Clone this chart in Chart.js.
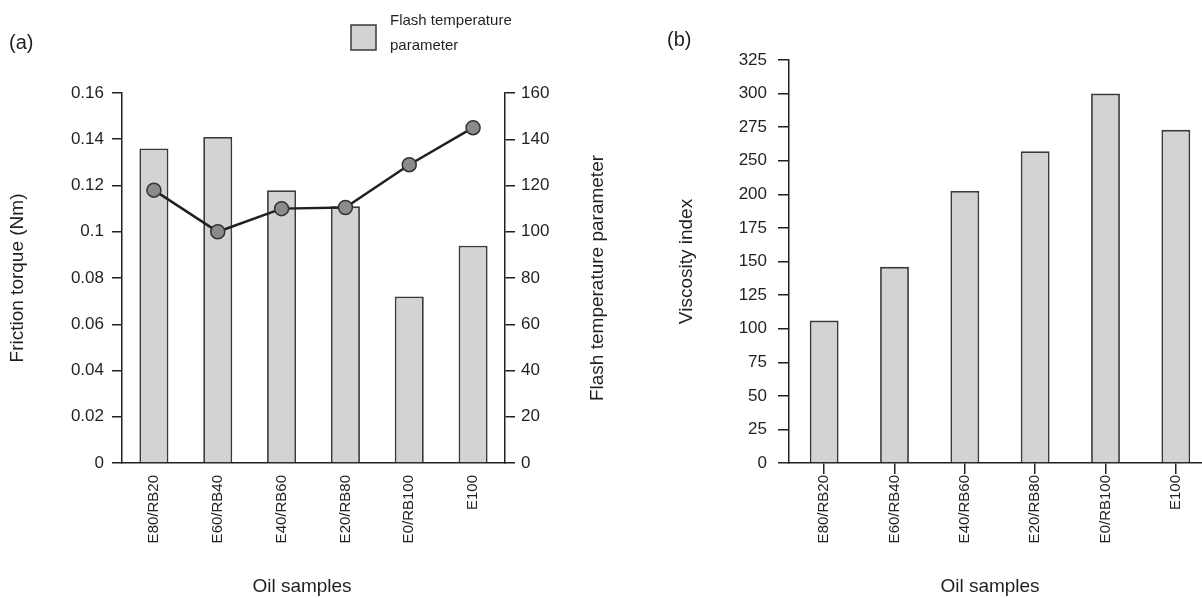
<!DOCTYPE html>
<html><head><meta charset="utf-8">
<script src="https://cdn.jsdelivr.net/npm/chart.js@4/dist/chart.umd.min.js"></script>
<style>
html,body{margin:0;padding:0;background:#fff;overflow:hidden;width:1202px;height:598px;position:relative;}
#ca{position:absolute;left:0;top:0;}
#cb{position:absolute;left:640px;top:0;}
</style></head><body>
<canvas id="ca" width="640" height="598"></canvas>
<canvas id="cb" width="590" height="598"></canvas>
<script>
// ---- data ----
const categories = ['E80/RB20','E60/RB40','E40/RB60','E20/RB80','E0/RB100','E100'];
const flashTemperature = [136, 141, 118, 111, 72, 94];
const frictionTorque = [0.118, 0.100, 0.110, 0.1105, 0.129, 0.145];
const viscosityIndex = [106, 146, 205, 257, 300, 273];
const torqueTicks = ['0','0.02','0.04','0.06','0.08','0.1','0.12','0.14','0.16'];
const flashTicks = ['0','20','40','60','80','100','120','140','160'];
const viscosityTicks = ['0','25','50','75','100','125','150','175','200','250','275','300','325'];
const legendLines = ['Flash temperature','parameter'];

// ---- style ----
const FONT = '"Liberation Sans", Arial, Helvetica, sans-serif';
const ink = '#231f20';
const barFill = '#d1d3d4';
const barEdge = '#3a3a3a';
const markerFill = '#8a8b8d';

// viscosity axis has a break (225 missing): map label-values to tick index positions
const viscNums = viscosityTicks.map(Number);
function viscToAxis(v){
  for(let i=0;i<viscNums.length-1;i++){
    if(v<=viscNums[i+1]) return i + (v-viscNums[i])/(viscNums[i+1]-viscNums[i]);
  }
  return viscNums.length-1;
}

function drawText(ctx, text, x, y, size, rot, align){
  ctx.save();
  ctx.fillStyle = ink;
  ctx.textBaseline = 'middle';
  ctx.textAlign = align || 'center';
  ctx.font = size + 'px ' + FONT;
  ctx.translate(x, y);
  if (rot) ctx.rotate(rot);
  ctx.fillText(text, 0, 0);
  ctx.restore();
}

const overlayA = {
  id:'overlayA',
  afterDraw(chart){
    const ctx = chart.ctx;
    drawText(ctx, '(a)', 9, 43, 20, 0, 'left');
    // legend
    ctx.save();
    ctx.fillStyle = barFill;
    ctx.fillRect(351, 25, 25, 25);
    ctx.strokeStyle = barEdge; ctx.lineWidth = 1.5;
    ctx.strokeRect(351, 25, 25, 25);
    ctx.restore();
    drawText(ctx, legendLines[0], 390, 21, 15, 0, 'left');
    drawText(ctx, legendLines[1], 390, 46, 15, 0, 'left');
    const y1 = chart.scales.y1;
    drawText(ctx, 'Flash temperature parameter', 598, (y1.top + y1.bottom)/2, 19, -Math.PI/2);
    drawText(ctx, 'Oil samples', 302, 587, 19, 0);
  }
};
const overlayB = {
  id:'overlayB',
  afterDraw(chart){
    const ctx = chart.ctx;
    drawText(ctx, '(b)', 27, 40, 20, 0, 'left');
    drawText(ctx, 'Oil samples', 350, 587, 19, 0);
  }
};

Chart.defaults.font.family = FONT;
Chart.defaults.color = ink;

new Chart(document.getElementById('ca'), {
  data: {
    labels: categories,
    datasets: [
      { type:'line', label:'Friction torque', data: frictionTorque, yAxisID:'y', order:0,
        borderColor: ink, borderWidth: 2.5, tension: 0, fill:false,
        pointRadius: 7, pointBackgroundColor: markerFill, pointBorderColor: '#333', pointBorderWidth: 1.5 },
      { type:'bar', label:'Flash temperature parameter', data: flashTemperature, yAxisID:'y1', order:1,
        backgroundColor: barFill, borderColor: barEdge, borderWidth: 1.8,
        barPercentage: 0.455, categoryPercentage: 1 }
    ]
  },
  options: {
    responsive:false, animation:false, devicePixelRatio:1,
    layout:{ padding:{ top:93, left:0, right:0, bottom:0 } },
    plugins:{ legend:{display:false}, tooltip:{enabled:false} },
    scales:{
      x:{ type:'category', offset:true,
        grid:{ offset:false, drawOnChartArea:false, drawTicks:true, tickLength:10, color:'rgba(0,0,0,0)', tickColor:'rgba(0,0,0,0)' },
        border:{ display:true, color: ink, width:1.5 },
        ticks:{ minRotation:90, maxRotation:90, autoSkip:false, padding:2, font:{size:15}, color: ink },
        afterFit(s){ s.height = 135; }
      },
      y:{ position:'left', min:0, max:0.16,
        ticks:{ stepSize:0.02, padding:8, font:{size:17}, color: ink,
          callback:(v)=> torqueTicks[Math.round(v/0.02)] },
        grid:{ drawOnChartArea:false, tickLength:10, tickColor: ink, lineWidth:1.5 },
        border:{ color: ink, width:1.5 },
        title:{ display:true, text:'Friction torque (Nm)', font:{size:19}, color: ink, padding:{top:6,bottom:0} },
        afterFit(s){ s.width = 122; }
      },
      y1:{ position:'right', min:0, max:160,
        ticks:{ stepSize:20, padding:6, font:{size:17}, color: ink,
          callback:(v)=> flashTicks[Math.round(v/20)] },
        grid:{ drawOnChartArea:false, tickLength:10, tickColor: ink, lineWidth:1.5 },
        border:{ color: ink, width:1.5 },
        afterFit(s){ s.width = 135; }
      }
    }
  },
  plugins:[overlayA]
});

new Chart(document.getElementById('cb'), {
  type:'bar',
  data: {
    labels: categories,
    datasets: [
      { label:'Viscosity index', data: viscosityIndex.map(viscToAxis),
        backgroundColor: barFill, borderColor: barEdge, borderWidth: 1.8,
        barPercentage: 0.41, categoryPercentage: 1 }
    ]
  },
  options: {
    responsive:false, animation:false, devicePixelRatio:1,
    layout:{ padding:{ top:60, left:0, right:19, bottom:0 } },
    plugins:{ legend:{display:false}, tooltip:{enabled:false} },
    scales:{
      x:{ type:'category', offset:true,
        grid:{ offset:false, drawOnChartArea:false, drawTicks:true, tickLength:11, color:'rgba(0,0,0,0)', tickColor: ink, lineWidth:1.5 },
        border:{ display:true, color: ink, width:1.5 },
        ticks:{ minRotation:90, maxRotation:90, autoSkip:false, padding:1, font:{size:15}, color: ink },
        afterFit(s){ s.height = 135; }
      },
      y:{ min:0, max: viscosityTicks.length-1,
        ticks:{ stepSize:1, padding:11, font:{size:17}, color: ink,
          callback:(v)=> viscosityTicks[v] },
        grid:{ drawOnChartArea:false, tickLength:11, tickColor: ink, lineWidth:1.5 },
        border:{ color: ink, width:1.5 },
        title:{ display:true, text:'Viscosity index', font:{size:19}, color: ink, padding:{top:35,bottom:0} },
        afterFit(s){ s.width = 149; }
      }
    }
  },
  plugins:[overlayB]
});
</script>
</body></html>
